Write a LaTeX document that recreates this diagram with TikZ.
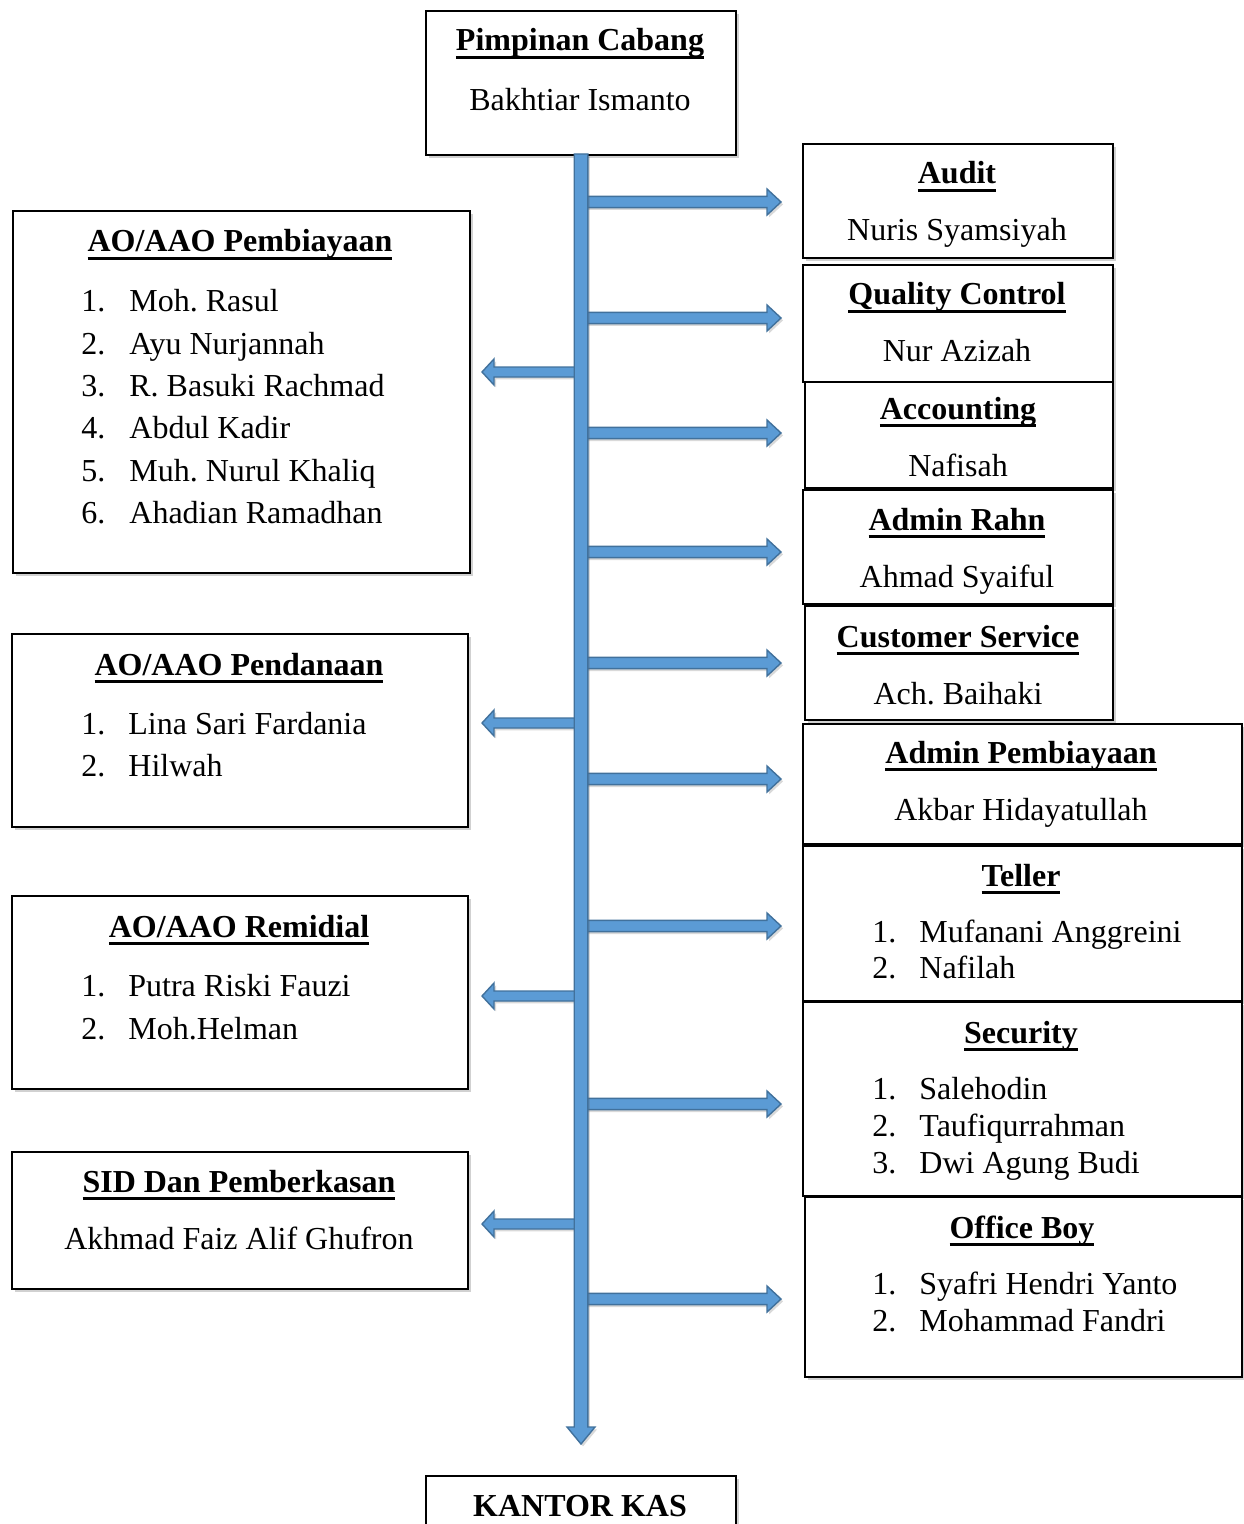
\documentclass[tikz,border=0pt]{standalone}
\usepackage{fontspec}
\setmainfont{Liberation Serif}
\usetikzlibrary{shadows,calc}
\frenchspacing
\definecolor{arrfill}{HTML}{5B9BD5}
\definecolor{arrline}{HTML}{41719C}
\newcommand\ulb[1]{\setbox0=\hbox{\textbf{#1}}\rlap{\rule[-3.8pt]{\wd0}{1.5pt}}\box0}
\tikzset{
  box/.style={draw=black, line width=1pt, fill=white, inner sep=0pt, anchor=north west,
    drop shadow={shadow xshift=1.5pt, shadow yshift=-1.5pt, opacity=0.3, fill=black!60}},
  txt/.style={font=\fontsize{16}{19}\selectfont\frenchspacing, inner sep=0pt, anchor=base},
  itm/.style={txt, anchor=base west},
  barrow/.style={fill=arrfill, draw=arrline, line width=0.7pt, line join=miter,
    drop shadow={shadow xshift=1pt, shadow yshift=-1.2pt, opacity=0.25, fill=black!60}}
}
\newcommand\mkbox[5]{\node[box, minimum width={(#4-#2)*0.5pt}, minimum height={(#5-#3)*0.5pt}] (#1) at (#2,#3) {};}
\newcommand\rarr[2]{\path[barrow] let \p1=(#1), \p2=(#2) in
  (\x1,{\y1+2.8pt}) -- ({\x2-7pt},{\y1+2.8pt}) -- ({\x2-7pt},{\y1+6.5pt}) -- (\x2,\y1)
  -- ({\x2-7pt},{\y1-6.5pt}) -- ({\x2-7pt},{\y1-2.8pt}) -- (\x1,{\y1-2.8pt}) -- cycle;}
\newcommand\larr[2]{\path[barrow] let \p1=(#1), \p2=(#2) in
  (\x1,{\y1+2.5pt}) -- ({\x2+6pt},{\y1+2.5pt}) -- ({\x2+6pt},{\y1+6.5pt}) -- (\x2,\y1)
  -- ({\x2+6pt},{\y1-6.5pt}) -- ({\x2+6pt},{\y1-2.5pt}) -- (\x1,{\y1-2.5pt}) -- cycle;}
\newcommand\darr[2]{\path[barrow] let \p1=(#1), \p2=(#2) in
  ({\x1-3.4pt},\y1) -- ({\x1-3.4pt},{\y2+8.5pt}) -- ({\x1-7pt},{\y2+8.5pt}) -- (\x1,\y2)
  -- ({\x1+7pt},{\y2+8.5pt}) -- ({\x1+3.4pt},{\y2+8.5pt}) -- ({\x1+3.4pt},\y1) -- cycle;}
\begin{document}
\begin{tikzpicture}[x=0.5pt,y=-0.5pt]
\useasboundingbox (0,0) rectangle (1243,1524);

% boxes
\mkbox{pc}{425}{10}{735}{154}
\mkbox{audit}{802}{143}{1112}{257}
\mkbox{qc}{802}{264}{1112}{381}
\mkbox{acc}{804}{381}{1112}{487}
\mkbox{rahn}{802}{489}{1112}{603}
\mkbox{cs}{804}{605}{1112}{719}
\mkbox{adm}{802}{723}{1241}{843}
\mkbox{tel}{802}{845}{1241}{1000}
\mkbox{sec}{802}{1001}{1241}{1195}
\mkbox{ob}{804}{1196}{1241}{1376}
\mkbox{aop}{12}{210}{469}{572}
\mkbox{aod}{11}{633}{467}{826}
\mkbox{aor}{11}{895}{467}{1088}
\mkbox{sid}{11}{1151}{467}{1288}
\mkbox{kk}{425}{1475}{735}{1560}

% coordinates for arrows
\coordinate (sp1) at (581,154);
\coordinate (sp2) at (581,1444);
\foreach \i/\yy in {1/202,2/318,3/433,4/552,5/663,6/779,7/926,8/1104,9/1299}{
  \coordinate (rs\i) at (581,\yy);
  \coordinate (re\i) at (781,\yy);
}
\foreach \i/\yy in {1/372,2/723,3/996,4/1224}{
  \coordinate (ls\i) at (581,\yy);
  \coordinate (le\i) at (482,\yy);
}
\rarr{rs1}{re1}
\rarr{rs2}{re2}
\rarr{rs3}{re3}
\rarr{rs4}{re4}
\rarr{rs5}{re5}
\rarr{rs6}{re6}
\rarr{rs7}{re7}
\rarr{rs8}{re8}
\rarr{rs9}{re9}
\larr{ls1}{le1}
\larr{ls2}{le2}
\larr{ls3}{le3}
\larr{ls4}{le4}
\darr{sp1}{sp2}

% texts
\node[txt] (pc-t) at (580,51) {\ulb{Pimpinan Cabang}};
\node[txt] (pc-n) at (580,111) {Bakhtiar Ismanto};

\node[txt] (audit-t) at (957,184) {\ulb{Audit}};
\node[txt] (audit-n) at (957,241) {Nuris Syamsiyah};

\node[txt] (qc-t) at (957,305) {\ulb{Quality Control}};
\node[txt] (qc-n) at (957,362) {Nur Azizah};

\node[txt] (acc-t) at (958,419) {\ulb{Accounting}};
\node[txt] (acc-n) at (958,476) {Nafisah};

\node[txt] (rahn-t) at (957,530) {\ulb{Admin Rahn}};
\node[txt] (rahn-n) at (957,587) {Ahmad Syaiful};

\node[txt] (cs-t) at (958,647) {\ulb{Customer Service}};
\node[txt] (cs-n) at (958,704) {Ach. Baihaki};

\node[txt] (adm-t) at (1021,763) {\ulb{Admin Pembiayaan}};
\node[txt] (adm-n) at (1021,820) {Akbar Hidayatullah};

\node[txt] (tel-t) at (1021,886) {\ulb{Teller}};
\node[itm] (tel-1n) at (872,942) {1.};
\node[itm] (tel-1) at (919,942) {Mufanani Anggreini};
\node[itm] (tel-2n) at (872,978) {2.};
\node[itm] (tel-2) at (919,978) {Nafilah};

\node[txt] (sec-t) at (1021,1043) {\ulb{Security}};
\node[itm] (sec-1n) at (872,1099) {1.};
\node[itm] (sec-1) at (919,1099) {Salehodin};
\node[itm] (sec-2n) at (872,1136) {2.};
\node[itm] (sec-2) at (919,1136) {Taufiqurrahman};
\node[itm] (sec-3n) at (872,1173) {3.};
\node[itm] (sec-3) at (919,1173) {Dwi Agung Budi};

\node[txt] (ob-t) at (1022,1238) {\ulb{Office Boy}};
\node[itm] (ob-1n) at (872,1294) {1.};
\node[itm] (ob-1) at (919,1294) {Syafri Hendri Yanto};
\node[itm] (ob-2n) at (872,1331) {2.};
\node[itm] (ob-2) at (919,1331) {Mohammad Fandri};

\node[txt] (aop-t) at (240,252) {\ulb{AO/AAO Pembiayaan}};
\node[itm] (aop-1n) at (81,312) {1.};
\node[itm] (aop-1) at (129,312) {Moh. Rasul};
\node[itm] (aop-2n) at (81,354) {2.};
\node[itm] (aop-2) at (129,354) {Ayu Nurjannah};
\node[itm] (aop-3n) at (81,396) {3.};
\node[itm] (aop-3) at (129,396) {R. Basuki Rachmad};
\node[itm] (aop-4n) at (81,438) {4.};
\node[itm] (aop-4) at (129,438) {Abdul Kadir};
\node[itm] (aop-5n) at (81,481) {5.};
\node[itm] (aop-5) at (129,481) {Muh. Nurul Khaliq};
\node[itm] (aop-6n) at (81,523) {6.};
\node[itm] (aop-6) at (129,523) {Ahadian Ramadhan};

\node[txt] (aod-t) at (239,675) {\ulb{AO/AAO Pendanaan}};
\node[itm] (aod-1n) at (81,734) {1.};
\node[itm] (aod-1) at (128,734) {Lina Sari Fardania};
\node[itm] (aod-2n) at (81,776) {2.};
\node[itm] (aod-2) at (128,776) {Hilwah};

\node[txt] (aor-t) at (239,937) {\ulb{AO/AAO Remidial}};
\node[itm] (aor-1n) at (81,996) {1.};
\node[itm] (aor-1) at (128,996) {Putra Riski Fauzi};
\node[itm] (aor-2n) at (81,1039) {2.};
\node[itm] (aor-2) at (128,1039) {Moh.Helman};

\node[txt] (sid-t) at (239,1192) {\ulb{SID Dan Pemberkasan}};
\node[txt] (sid-n) at (239,1249) {Akhmad Faiz Alif Ghufron};

\node[txt] (kk-t) at (580,1516) {\textbf{KANTOR KAS}};
\end{tikzpicture}
\end{document}
